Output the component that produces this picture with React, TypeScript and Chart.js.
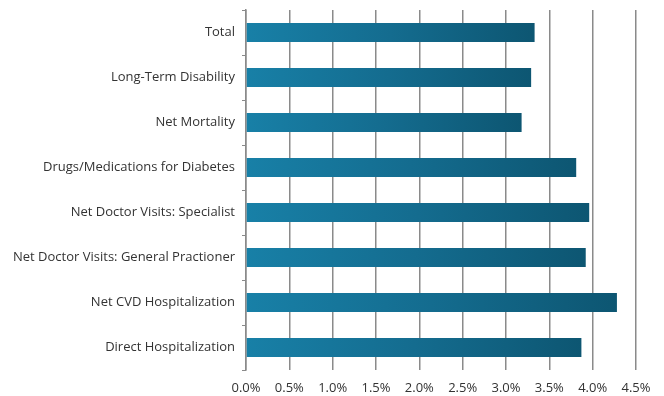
import React, { useEffect, useRef } from "react";
import { Chart, registerables } from "chart.js";

Chart.register(...registerables);

const categories = [
  "Total",
  "Long-Term Disability",
  "Net Mortality",
  "Drugs/Medications for Diabetes",
  "Net Doctor Visits: Specialist",
  "Net Doctor Visits: General Practioner",
  "Net CVD Hospitalization",
  "Direct Hospitalization",
];
const values = [3.33, 3.29, 3.18, 3.81, 3.96, 3.92, 4.28, 3.87];
const xMax = 4.5;
const xStep = 0.5;

export default function App() {
  const ref = useRef<HTMLCanvasElement>(null);
  useEffect(() => {
    document.body.style.margin = "0";
    const canvas = ref.current!;
    const chart = new Chart(canvas, {
      type: "bar",
      data: {
        labels: categories,
        datasets: [
          {
            data: values,
            barPercentage: 0.42,
            categoryPercentage: 1,
            backgroundColor: (ctx: any) => {
              const c = ctx.chart;
              const xs = c.scales && c.scales.x;
              if (!c.chartArea || !xs) return "#136e92";
              const x0 = xs.getPixelForValue(0);
              const x1 = xs.getPixelForValue(ctx.raw ?? xMax);
              const g = c.ctx.createLinearGradient(x0, 0, x1, 0);
              g.addColorStop(0, "#1880a7");
              g.addColorStop(0.5, "#146c8f");
              g.addColorStop(1, "#0d5672");
              return g;
            },
          },
        ],
      },
      options: {
        indexAxis: "y",
        animation: false,
        responsive: false,
        maintainAspectRatio: false,
        layout: { padding: { top: 10, right: 28, left: 0, bottom: 0 } },
        plugins: { legend: { display: false }, tooltip: { enabled: false } },
        scales: {
          x: {
            min: 0,
            max: xMax,
            afterFit: (s: any) => {
              s.height = 26;
            },
            ticks: {
              stepSize: xStep,
              callback: (v: any) => Number(v).toFixed(1) + "%",
              color: "#333",
              font: { family: "Open Sans", size: 13 },
              padding: 10,
            },
            grid: { color: "#8a8a8a", lineWidth: 1.5, drawTicks: false },
            border: { display: false },
          },
          y: {
            afterFit: (s: any) => {
              s.width = 246;
              s.paddingTop = 0;
              s.paddingBottom = 0;
            },
            ticks: {
              color: "#333",
              font: { family: "Open Sans", size: 13 },
              padding: 7,
            },
            grid: {
              offset: true,
              drawOnChartArea: false,
              color: "#8a8a8a",
              tickLength: 4,
            },
            border: { display: true, color: "#8a8a8a", width: 1.5 },
          },
        },
      },
    } as any);
    return () => chart.destroy();
  }, []);
  return (
    <div style={{ width: 664, height: 396 }}>
      <canvas ref={ref} width={664} height={396} />
    </div>
  );
}
